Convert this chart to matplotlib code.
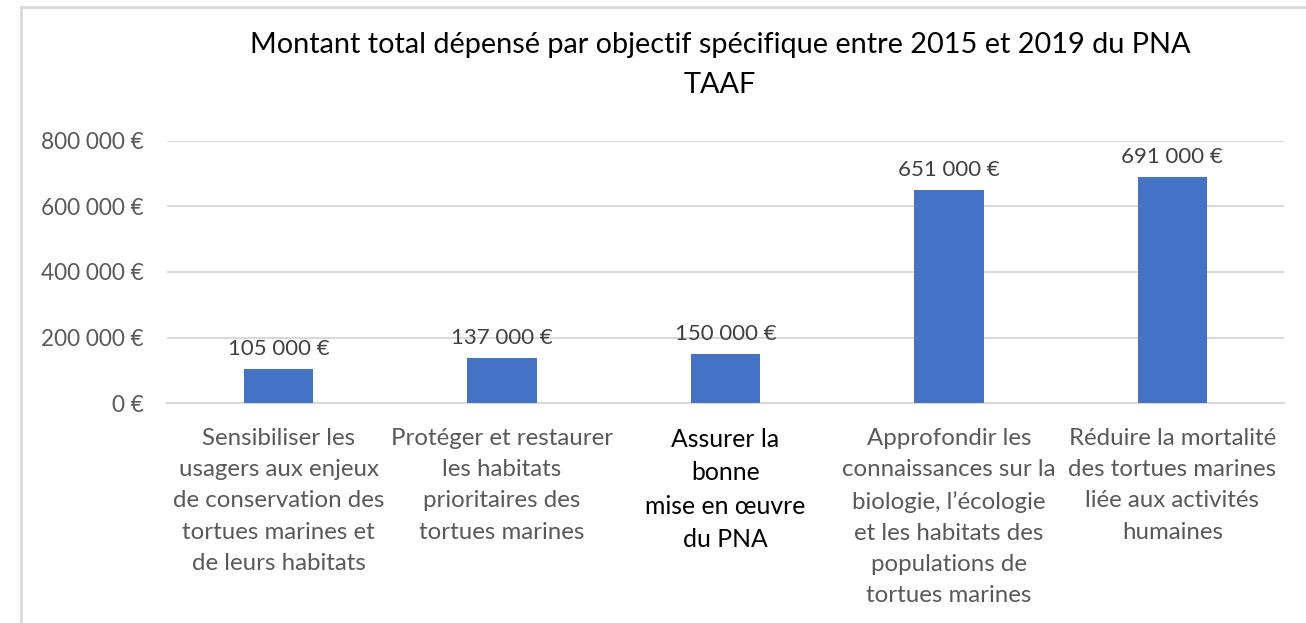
import matplotlib.pyplot as plt
from matplotlib.lines import Line2D

# Données
categories = [
    "Sensibiliser les\nusagers aux enjeux\nde conservation des\ntortues marines et\nde leurs habitats",
    "Protéger et restaurer\nles habitats\nprioritaires des\ntortues marines",
    "Assurer la\nbonne\nmise en œuvre\ndu PNA",
    "Approfondir les\nconnaissances sur la\nbiologie, l’écologie\net les habitats des\npopulations de\ntortues marines",
    "Réduire la mortalité\ndes tortues marines\nliée aux activités\nhumaines",
]
montants = [105000, 137000, 150000, 651000, 691000]
yticks = [0, 200000, 400000, 600000, 800000]

plt.rcParams["font.family"] = ["Lato", "DejaVu Sans"]

W, H = 1306, 623
fig = plt.figure(figsize=(W / 100, H / 100), dpi=100)
ax = fig.add_axes([167 / W, 1 - 403 / H, (1284 - 167) / W, (403 - 141) / H])


def euros(v):
    return "{:,}".format(int(v)).replace(",", " ") + " €"


x = range(len(categories))
bars = ax.bar(x, montants, width=0.31, color="#4472C4", zorder=3)

for b, v in zip(bars, montants):
    ax.annotate(euros(v), (b.get_x() + b.get_width() / 2, v), xytext=(0, 7),
                textcoords="offset points", ha="center", va="bottom",
                fontsize=16, color="#404040")

ax.set_xlim(-0.5, len(categories) - 0.5)
ax.set_ylim(0, 800000)
ax.set_yticks(yticks)
ax.set_yticklabels([euros(v) for v in yticks], fontsize=16.3, color="#595959")
ax.yaxis.grid(True, color="#d9d9d9", linewidth=1.5, zorder=0)
ax.tick_params(axis="y", length=0, pad=17)
ax.tick_params(axis="x", length=0, pad=18)

ax.set_xticks(list(x))
ax.set_xticklabels(categories, fontsize=17.3, color="#595959", linespacing=1.6)
lab = ax.get_xticklabels()[2]
lab.set_color("black")
lab.set_fontsize(17.8)
lab.set_linespacing(1.55)

for s in ["top", "right", "left"]:
    ax.spines[s].set_visible(False)
ax.spines["bottom"].set_color("#d9d9d9")
ax.spines["bottom"].set_linewidth(1.5)

fig.text(720 / W, 1 - 45 / H, "Montant total dépensé par objectif spécifique entre 2015 et 2019 du PNA",
         ha="center", va="center", fontsize=20.8, color="black")
fig.text(720 / W, 1 - 85 / H, "TAAF", ha="center", va="center", fontsize=20.8, color="black")

# Cadre du graphique
fig.add_artist(Line2D([21 / W, 21 / W], [0, 1 - 7 / H], color="#d9d9d9", linewidth=2))
fig.add_artist(Line2D([21 / W, 1], [1 - 7 / H, 1 - 7 / H], color="#d9d9d9", linewidth=2))

fig.savefig("out.png", dpi=100)
